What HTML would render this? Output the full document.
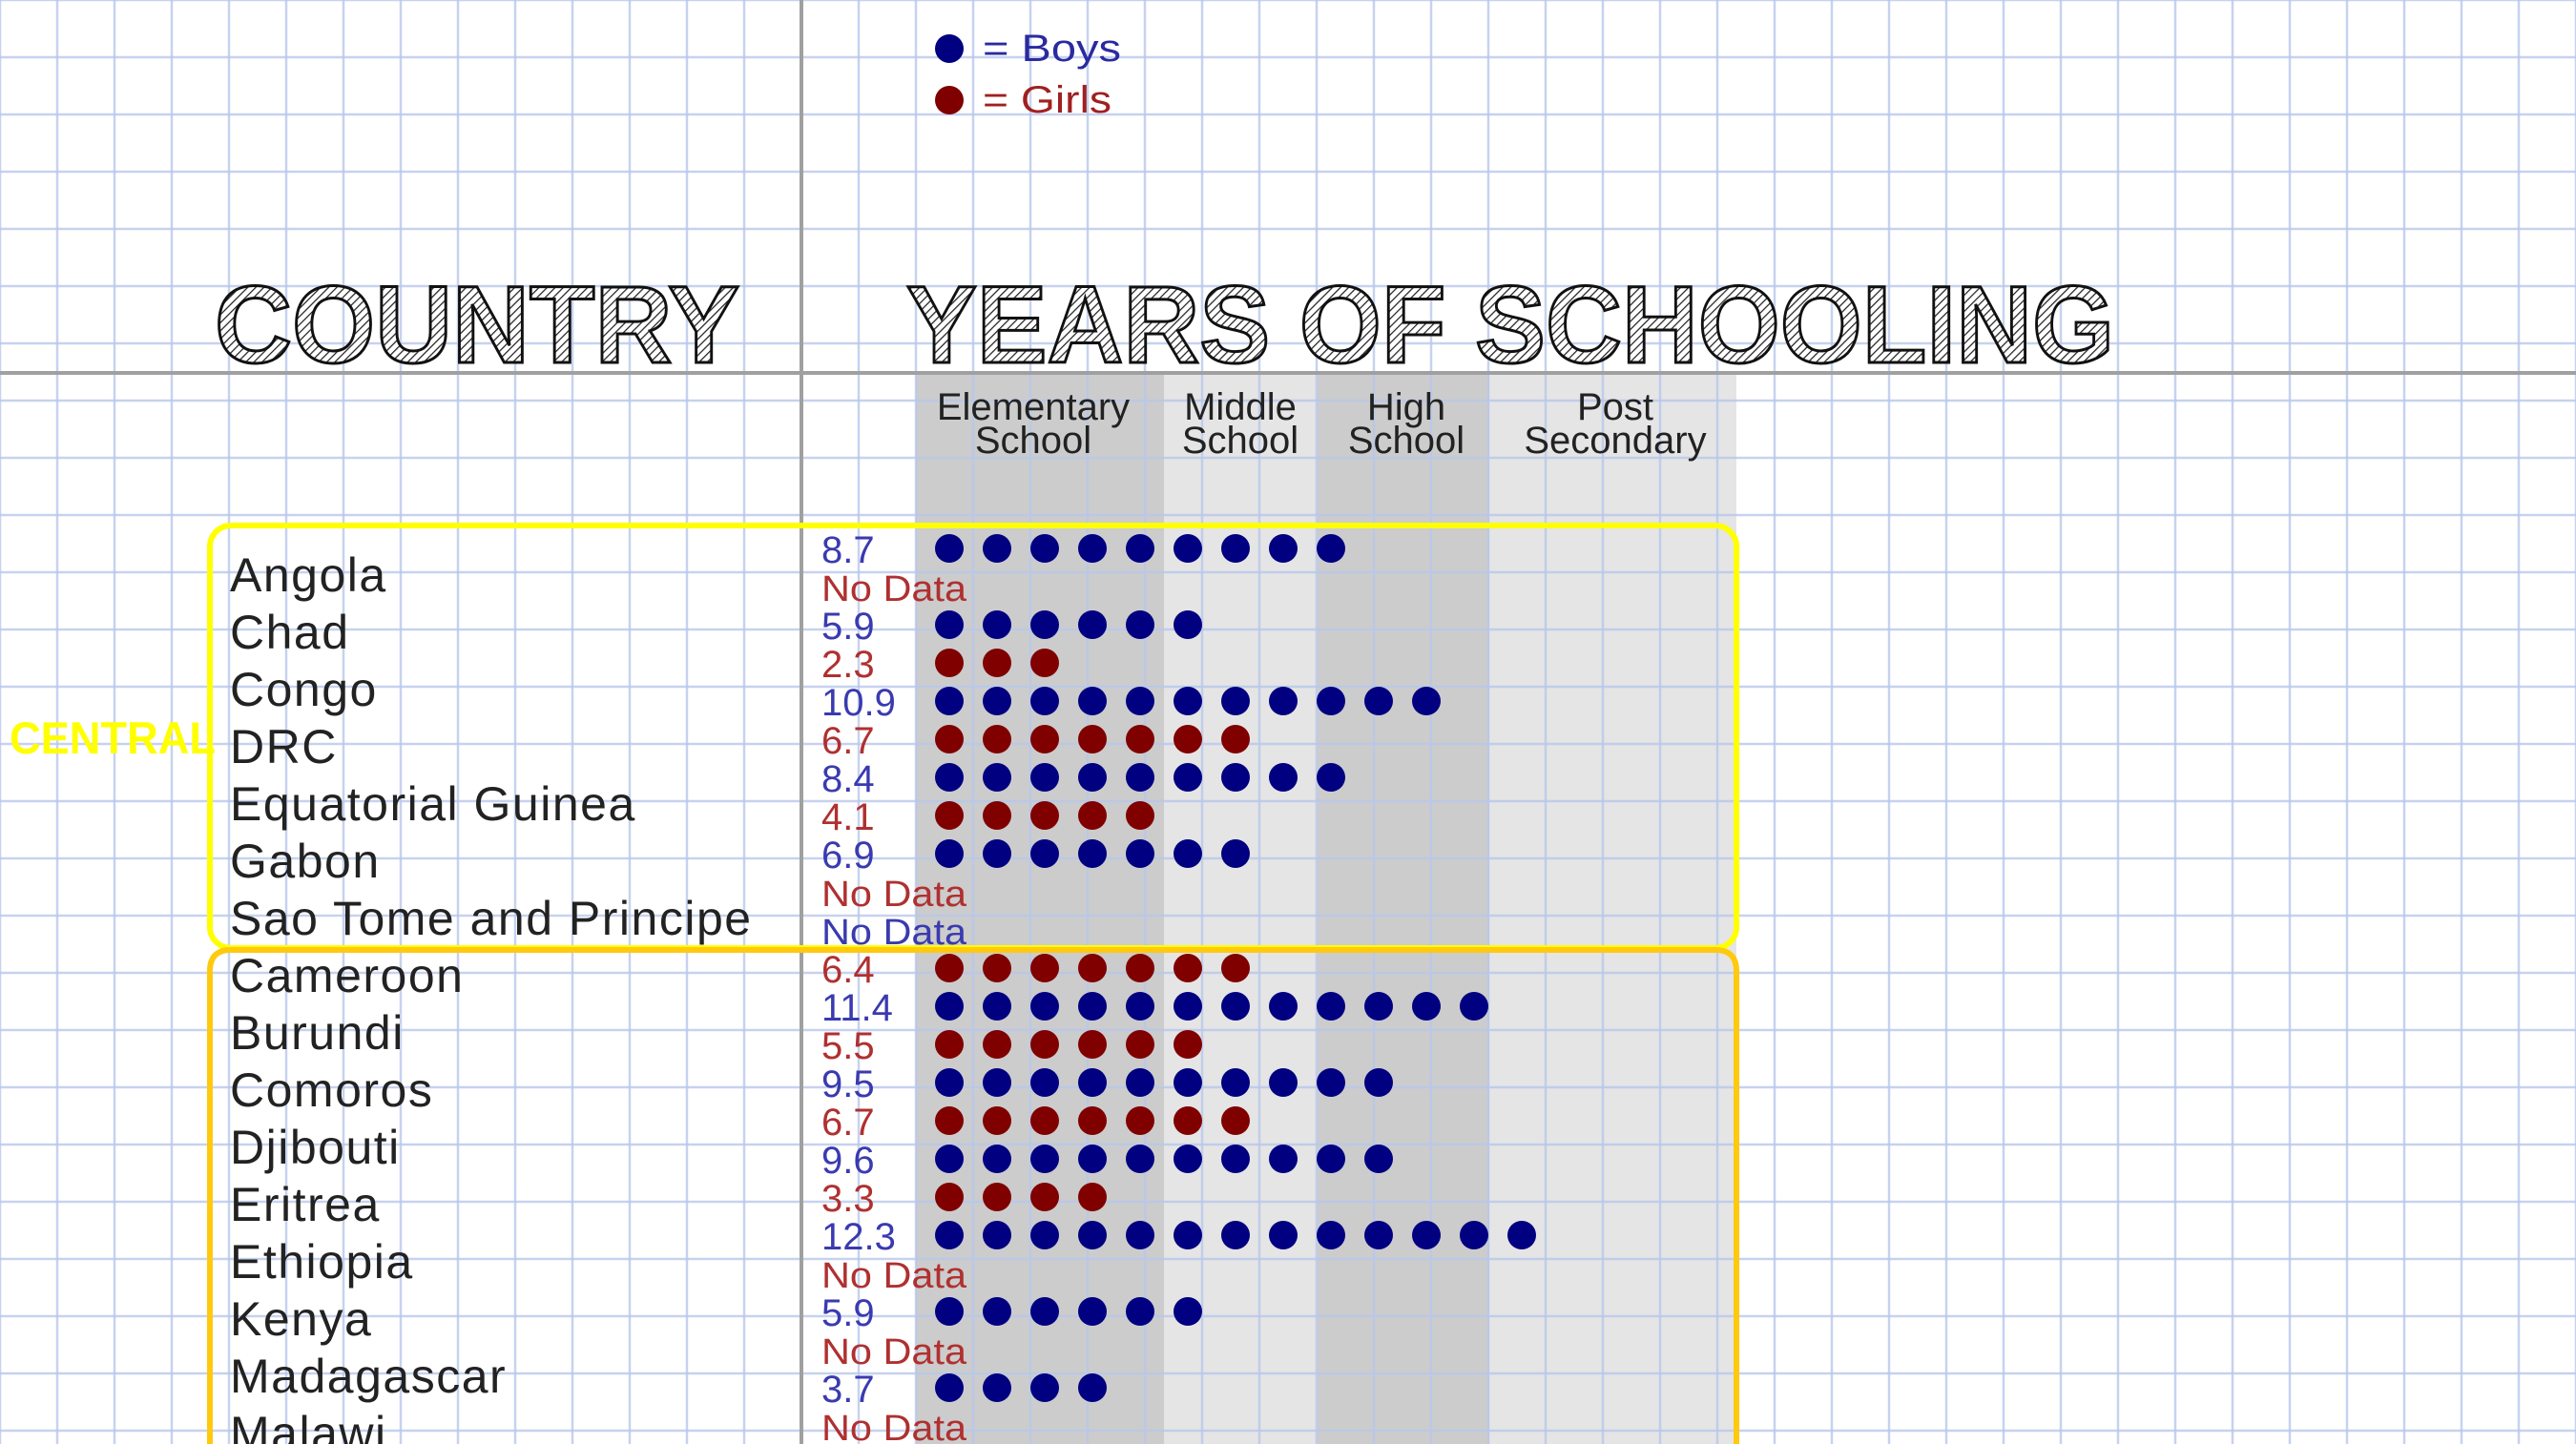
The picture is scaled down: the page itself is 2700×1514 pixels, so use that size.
<!DOCTYPE html>
<html><head><meta charset="utf-8"><style>
html,body{margin:0;padding:0;background:#fff;width:2700px;height:1514px;overflow:hidden;}
svg{display:block;font-family:"Liberation Sans",sans-serif;}
</style></head><body>
<svg id="chart" width="2700" height="1514" viewBox="0 0 2700 1514">
<defs>
<pattern id="hatch" width="6" height="6" patternUnits="userSpaceOnUse" patternTransform="rotate(45)">
<rect width="6" height="6" fill="#fff"/><line x1="0" y1="0" x2="0" y2="6" stroke="#222" stroke-width="2.5"/>
</pattern>
</defs>
<g>
<rect x="960" y="392" width="260" height="1122" fill="#cccccc"/>
<rect x="1220" y="392" width="161" height="1122" fill="#e5e5e5"/>
<rect x="1381" y="392" width="180" height="1122" fill="#cccccc"/>
<rect x="1561" y="392" width="259" height="1122" fill="#e5e5e5"/>
</g>
<g id="grid"></g>
<line x1="840" y1="0" x2="840" y2="1514" stroke="#a0a0a0" stroke-width="4"/>
<line x1="0" y1="391" x2="2700" y2="391" stroke="#a0a0a0" stroke-width="4"/>
<rect x="220" y="551" width="1600" height="443" rx="22" fill="none" stroke="#ffff00" stroke-width="6"/>
<path d="M220,1514 L220,1018 Q220,996 242,996 L1798,996 Q1820,996 1820,1018 L1820,1514" fill="none" stroke="#ffc90e" stroke-width="6"/>
<text x="10" y="790" font-size="47" font-weight="bold" fill="#ffff00" textLength="216" lengthAdjust="spacingAndGlyphs">CENTRAL</text>
<text x="225" y="380" font-size="115" font-weight="bold" fill="url(#hatch)" stroke="#111" stroke-width="3" textLength="550" lengthAdjust="spacingAndGlyphs">COUNTRY</text>
<text x="950" y="380" font-size="115" font-weight="bold" fill="url(#hatch)" stroke="#111" stroke-width="3" textLength="1266" lengthAdjust="spacingAndGlyphs">YEARS OF SCHOOLING</text>
<g>
<circle cx="995" cy="51" r="15" fill="#000080"/>
<text x="1030" y="64" font-size="40" fill="#2a2aa0" textLength="145" lengthAdjust="spacingAndGlyphs">= Boys</text>
<circle cx="995" cy="105" r="15" fill="#800000"/>
<text x="1030" y="118" font-size="40" fill="#a02020" textLength="135" lengthAdjust="spacingAndGlyphs">= Girls</text>
</g>
<g font-size="40" fill="#222" text-anchor="middle">
<text x="1083" y="440">Elementary</text>
<text x="1083" y="475">School</text>
<text x="1300" y="440">Middle</text>
<text x="1300" y="475">School</text>
<text x="1474" y="440">High</text>
<text x="1474" y="475">School</text>
<text x="1693" y="440">Post</text>
<text x="1693" y="475">Secondary</text>
</g>
<g id="countries"></g>
<g id="rows"></g>
</svg>
<script>
const countries = ["Angola","Chad","Congo","DRC","Equatorial Guinea","Gabon","Sao Tome and Principe","Cameroon","Burundi","Comoros","Djibouti","Eritrea","Ethiopia","Kenya","Madagascar","Malawi"];
const rowValues = [8.7,null,5.9,2.3,10.9,6.7,8.4,4.1,6.9,null,null,6.4,11.4,5.5,9.5,6.7,9.6,3.3,12.3,null,5.9,null,3.7,null];
const rowGender = ["B","G","B","G","B","G","B","G","B","G","B","G","B","G","B","G","B","G","B","G","B","G","B","G"];
const NS = "http://www.w3.org/2000/svg";
const grid = document.getElementById('grid');
for (let x = 0; x <= 2700; x += 60) {
  const l = document.createElementNS(NS,'line');
  l.setAttribute('x1',x);l.setAttribute('x2',x);l.setAttribute('y1',0);l.setAttribute('y2',1514);
  l.setAttribute('stroke','#b8c8ec');l.setAttribute('stroke-width','2.5');l.setAttribute('opacity','0.8');
  
  
  grid.appendChild(l);
}
for (let y = 0; y <= 1514; y += 60) {
  const l = document.createElementNS(NS,'line');
  l.setAttribute('x1',0);l.setAttribute('x2',2700);l.setAttribute('y1',y);l.setAttribute('y2',y);
  l.setAttribute('stroke','#b8c8ec');l.setAttribute('stroke-width','2.5');l.setAttribute('opacity','0.8');
  
  
  grid.appendChild(l);
}
const cg = document.getElementById('countries');
countries.forEach((c,i) => {
  const t = document.createElementNS(NS,'text');
  t.setAttribute('x',241);t.setAttribute('y',620+60*i);
  t.setAttribute('font-size','50');t.setAttribute('fill','#222');
  t.setAttribute('letter-spacing','1.5');
  t.textContent = c;
  
  
  cg.appendChild(t);
});
const rowY = i => 575 + 40*i;
const dotX = j => 995 + 50*j;
const rg = document.getElementById('rows');
rowValues.forEach((v,i) => {
  const boy = rowGender[i] === 'B';
  const t = document.createElementNS(NS,'text');
  t.setAttribute('x',861);t.setAttribute('y',rowY(i)+15);
  t.setAttribute('font-size','40');
  t.setAttribute('fill', boy ? '#3a3ab0' : '#b03030');
  t.textContent = v === null ? 'No Data' : String(v);
  if (v === null) { t.setAttribute('font-size','38'); t.setAttribute('textLength','152'); t.setAttribute('lengthAdjust','spacingAndGlyphs'); }
  
  
  rg.appendChild(t);
  if (v === null) return;
  const n = Math.ceil(v);
  for (let j = 0; j < n; j++) {
    const c = document.createElementNS(NS,'circle');
    c.setAttribute('cx',dotX(j));c.setAttribute('cy',rowY(i));c.setAttribute('r',15);
    c.setAttribute('fill', boy ? '#000080' : '#800000');
    
    
    rg.appendChild(c);
  }
});
</script>
</body></html>
